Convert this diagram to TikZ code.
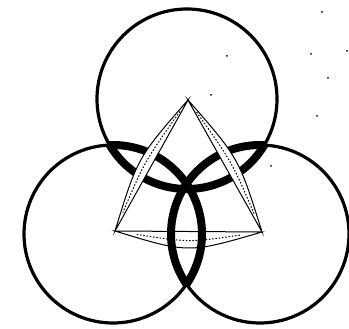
\documentclass[tikz,border=0pt]{standalone}
\usetikzlibrary{calc}
\begin{document}
\begin{tikzpicture}[x=1pt,y=-1pt,
  ring/.style={line width=3.2pt},
  innerring/.style={line width=8pt},
  band/.style={fill=white,draw=black,line width=1pt,line join=miter},
  scribble/.style={line width=1pt,dash pattern=on 1.5pt off 1.8pt},
  speck/.style={fill=black}]
\useasboundingbox (0,0) rectangle (349,329);
% circle centres
\coordinate (T) at (187,99);
\coordinate (L) at (113,234);
\coordinate (R) at (260,234);
% triangle corners
\coordinate (A) at (188,100);
\coordinate (B) at (115,231);
\coordinate (C) at (262,232);
% bottom band (under the rings)
\path[band] (B) -- (C) .. controls ($(B)!0.5!(C)!22pt!-90:(C)$) .. (B) -- cycle;
\draw[scribble,shorten >=22pt,shorten <=22pt] (B) .. controls ($(B)!0.5!(C)!11pt!-90:(C)$) .. (C);
% rings
\draw[ring] (T) circle[radius=90];
\draw[ring] (L) circle[radius=89];
\draw[ring] (R) circle[radius=89];
% thick inner arcs
\begin{scope}
  \clip (L) circle[radius=89] (R) circle[radius=89];
  \draw[innerring] (T) circle[radius=90];
\end{scope}
\begin{scope}
  \clip (T) circle[radius=90] (R) circle[radius=89];
  \draw[innerring] (L) circle[radius=89];
\end{scope}
\begin{scope}
  \clip (T) circle[radius=90] (L) circle[radius=89];
  \draw[innerring] (R) circle[radius=89];
\end{scope}
% side bands (over the rings)
\path[band] (A) -- (B) .. controls ($(A)!0.5!(B)!16pt!-90:(B)$) .. (A) -- cycle;
\draw[scribble,shorten >=20pt,shorten <=14pt] (A) .. controls ($(A)!0.5!(B)!8pt!-90:(B)$) .. (B);
\path[band] (C) -- (A) .. controls ($(C)!0.5!(A)!16pt!-90:(A)$) .. (C) -- cycle;
\draw[scribble,shorten >=14pt,shorten <=20pt] (C) .. controls ($(C)!0.5!(A)!8pt!-90:(A)$) .. (A);
% specks
\foreach \p in {(322,12),(311,54),(347,51),(328,78),(317,116),(227,56),(211,95),(271,166)}
  \fill[speck] \p circle[radius=1];
\end{tikzpicture}
\end{document}
